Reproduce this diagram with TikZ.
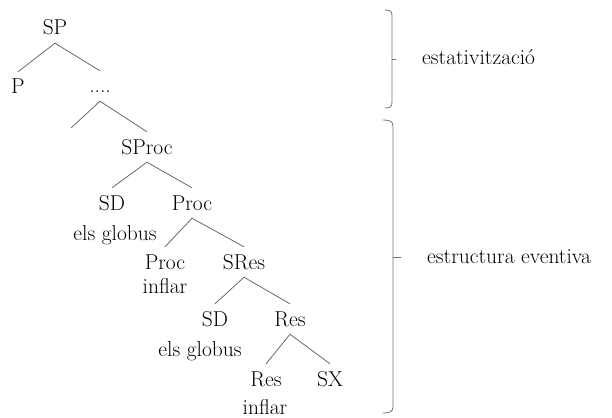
\documentclass[tikz,border=0pt]{standalone}
\begin{document}
\begin{tikzpicture}[x=1pt,y=-1pt,
  every node/.style={font=\fontsize{21.5}{25}\selectfont,inner xsep=1pt,inner ysep=7pt,text height=15pt,text depth=1pt},
  branch/.style={draw=black!65,line width=0.7pt},
  bracket/.style={draw=black!55,line width=0.8pt,line cap=round},
  gloss/.style={anchor=west,inner xsep=0pt}]
\useasboundingbox (0,0) rectangle (612,417);
% tree
\node (sp) at (55,28) {SP};
\node (p) at (18,87) {P};
\node (dots) at (100,86) {....};
\coordinate (open) at (71,128);
\node (sproc) at (147,147) {SProc};
\node (sd1) at (112,203) {SD};
\node (proc1) at (192,203) {Proc};
\node (globus1) at (115,233) {els globus};
\node (proc2) at (165,262) {Proc};
\node (sres) at (244,262) {SRes};
\node (inflar1) at (165,286) {inflar};
\node (sd2) at (215,319) {SD};
\node (res1) at (290,319) {Res};
\node (globus2) at (200,349) {els globus};
\node (res2) at (266,379) {Res};
\node (sx) at (330,379) {SX};
\node (inflar2) at (265,407) {inflar};
\draw[branch] (sp.south) -- (p.north);
\draw[branch] (sp.south) -- (dots.north);
\draw[branch] (dots.south) -- (open);
\draw[branch] (dots.south) -- (sproc.north);
\draw[branch] (sproc.south) -- (sd1.north);
\draw[branch] (sproc.south) -- (proc1.north);
\draw[branch] (proc1.south) -- (proc2.north);
\draw[branch] (proc1.south) -- (sres.north);
\draw[branch] (sres.south) -- (sd2.north);
\draw[branch] (sres.south) -- (res1.north);
\draw[branch] (res1.south) -- (res2.north);
\draw[branch] (res1.south) -- (sx.north);
% brackets
\coordinate (tip1) at (396,59);
\coordinate (tip2) at (401,257);
\draw[bracket] (385,10) .. controls (390,10) and (392,11) .. (392,16) -- (392,102) .. controls (392,107) and (390,108) .. (385,108);
\draw[bracket] (392,59) -- (tip1);
\draw[bracket] (383,120) .. controls (389,120) and (393,121) .. (393,126) -- (393,407) .. controls (393,412) and (389,413) .. (383,413);
\draw[bracket] (393,257) -- (tip2);
\node[gloss] (estat) at (422,58) {estativització};
\node[gloss] (estruc) at (427,256) {estructura eventiva};
\end{tikzpicture}
\end{document}
